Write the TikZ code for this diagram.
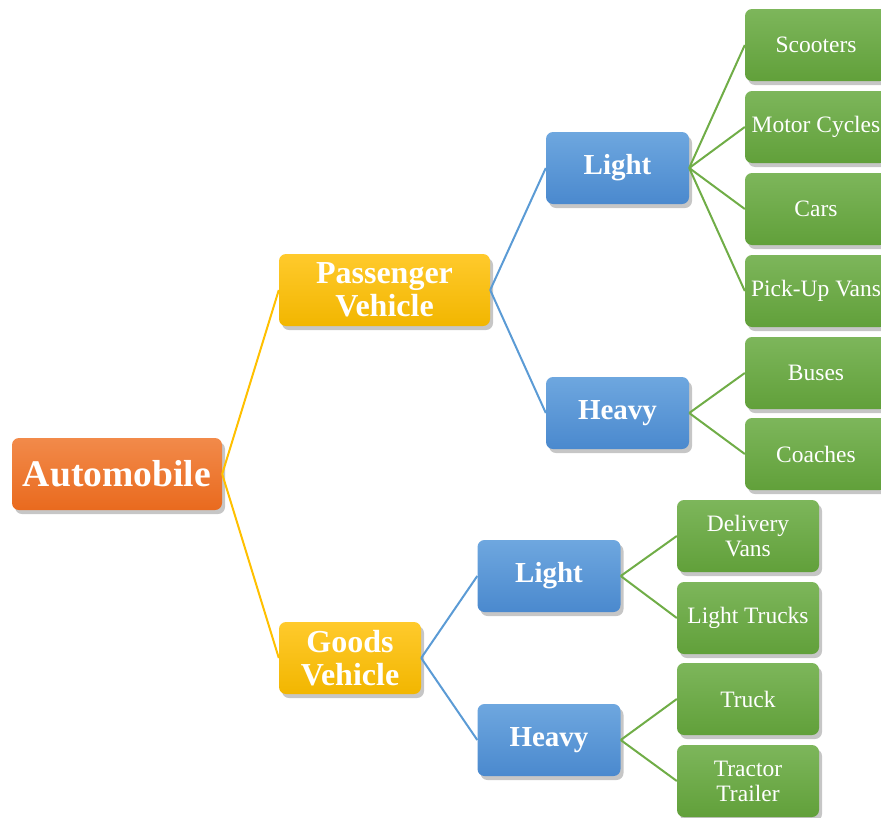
\documentclass[tikz,border=0pt]{standalone}
\usepackage{fontspec}
\setmainfont{Liberation Serif}
\usetikzlibrary{shadows}
\definecolor{orT}{HTML}{F28A4A}
\definecolor{orB}{HTML}{E96A1E}
\definecolor{yeT}{HTML}{FFCA2C}
\definecolor{yeB}{HTML}{F2B600}
\definecolor{blT}{HTML}{6EA7DF}
\definecolor{blB}{HTML}{4A89CE}
\definecolor{grT}{HTML}{7DB65B}
\definecolor{grB}{HTML}{61A03A}
\definecolor{yeL}{HTML}{FFC000}
\definecolor{blL}{HTML}{5B9BD5}
\definecolor{grL}{HTML}{70AD47}
\tikzset{
  box/.style={rectangle, rounded corners=7pt, text=white, align=center, inner sep=0pt,
    minimum height=72pt, drop shadow={shadow xshift=3pt, shadow yshift=-4pt, fill=black!50, opacity=0.45}},
  rootbox/.style={box, top color=orT, bottom color=orB, minimum width=210pt,
    font=\fontsize{37.6}{40}\selectfont\bfseries},
  midbox/.style={box, top color=yeT, bottom color=yeB,
    font=\fontsize{32}{33}\selectfont\bfseries},
  subbox/.style={box, top color=blT, bottom color=blB, minimum width=143pt,
    font=\fontsize{29}{31}\selectfont\bfseries},
  leafbox/.style={box, top color=grT, bottom color=grB, minimum width=142pt,
    font=\fontsize{23.5}{25}\selectfont},
  ylink/.style={draw=yeL, line width=2pt},
  blink/.style={draw=blL, line width=2pt},
  glink/.style={draw=grL, line width=2pt}
}
\begin{document}
\begin{tikzpicture}[x=1pt,y=-1pt]
\useasboundingbox (0,0) rectangle (881,817);
\clip (0,0) rectangle (881,817);
\node[rootbox] (auto) at (117,474) {Automobile};
\node[midbox, minimum width=211pt] (pass) at (384.5,290) {Passenger\\Vehicle};
\node[midbox, minimum width=142pt] (goods) at (350,658) {Goods\\Vehicle};
\node[subbox] (pl) at (617.5,168) {Light};
\node[subbox] (ph) at (617.5,413) {Heavy};
\node[subbox] (gl) at (549,576) {Light};
\node[subbox] (gh) at (549,740) {Heavy};
\node[leafbox] (sc) at (816,45) {Scooters};
\node[leafbox] (mc) at (816,127) {Motor Cycles};
\node[leafbox] (ca) at (816,209) {Cars};
\node[leafbox] (pu) at (816,291) {Pick-Up Vans};
\node[leafbox] (bu) at (816,373) {Buses};
\node[leafbox] (co) at (816,454) {Coaches};
\node[leafbox] (dv) at (748,536) {Delivery\\Vans};
\node[leafbox] (lt) at (748,618) {Light Trucks};
\node[leafbox] (tr) at (748,699) {Truck};
\node[leafbox] (tt) at (748,781) {Tractor\\Trailer};
\draw[ylink] (auto.east) -- (pass.west);
\draw[ylink] (auto.east) -- (goods.west);
\draw[blink] (pass.east) -- (pl.west);
\draw[blink] (pass.east) -- (ph.west);
\draw[blink] (goods.east) -- (gl.west);
\draw[blink] (goods.east) -- (gh.west);
\foreach \c in {sc,mc,ca,pu} \draw[glink] (pl.east) -- (\c.west);
\foreach \c in {bu,co} \draw[glink] (ph.east) -- (\c.west);
\foreach \c in {dv,lt} \draw[glink] (gl.east) -- (\c.west);
\foreach \c in {tr,tt} \draw[glink] (gh.east) -- (\c.west);
\end{tikzpicture}
\end{document}
